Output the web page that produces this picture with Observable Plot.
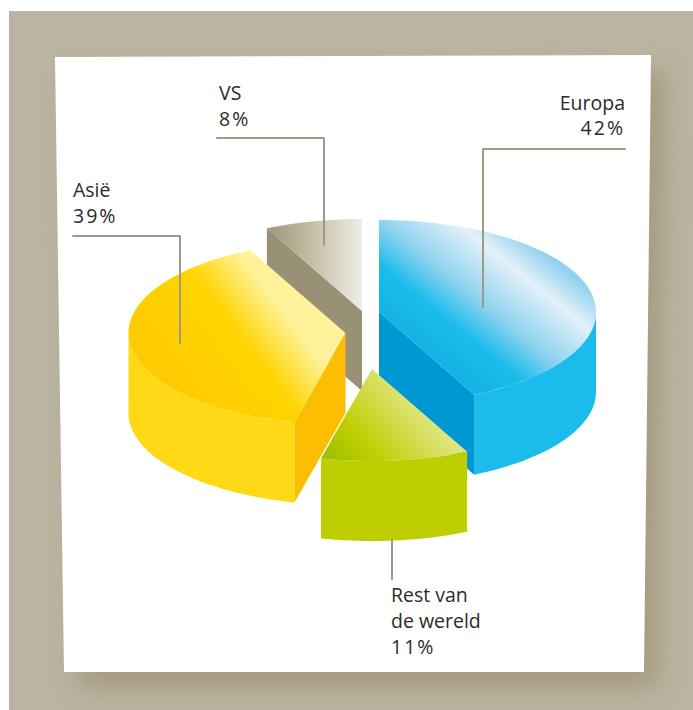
<!doctype html>
<html><head><meta charset="utf-8">
<script src="https://cdn.jsdelivr.net/npm/d3@7"></script>
<script src="https://cdn.jsdelivr.net/npm/@observablehq/plot@0.6"></script>
<style>html,body{margin:0;padding:0;background:#fff}svg{display:block}</style>
</head><body><div id="chart"></div>
<script>
// Data
const regions = ["Europa", "Rest van de wereld", "Asië", "VS"];
const shares = [42, 11, 39, 8];
const labelLines = [["Europa", "42%"], ["Rest van", "de wereld", "11%"], ["Asië", "39%"], ["VS", "8%"]];

// Layout (page pixels)
const W = 693, H = 710;
const centers = [[379, 312], [372, 369], [345.5, 333], [362, 311]];
const RX = 217, RY = 92, DEPTH = 80, ROTATION = 2.8;
const labelX = [625, 391, 73, 219], labelY = [110, 602, 197, 100], anchors = ["end", "start", "start", "start"];
const lineSteps = [25, 26, 26, 26];
const leaders = [
  [[625, 149], [483, 149], [483, 307]],
  [[392, 540], [392, 579]],
  [[73, 236], [180, 236], [180, 343]],
  [[217, 138], [324, 138], [324, 245]]
];
const backdrop = [[9, 11], [693, 11], [693, 710], [9, 710]];
const paper = [[55, 57], [651, 55], [644, 672], [64, 672]];
const backdropColor = "#bbb4a0", shadowColor = "#a59b82", leaderColor = "#a19a82", textColor = "#2b2a2d";

// Slice angles follow the shares; the pie is cut at 12 o'clock
let cum = 0;
const spans = shares.map((s, i) => {
  const a = i === 0 ? 0 : cum * 3.6 + ROTATION;
  cum += s;
  const b = i === shares.length - 1 ? 360 : cum * 3.6 + ROTATION;
  return [a, b];
});
const rim = (c, deg, dy = 0) => {
  const t = deg * Math.PI / 180;
  return [c[0] + RX * Math.sin(t), c[1] - RY * Math.cos(t) + dy];
};
const arc = (c, a, b, dy = 0) => {
  const n = Math.max(2, Math.ceil(Math.abs(b - a) / 2));
  return d3.range(n + 1).map(k => rim(c, a + (b - a) * k / n, dy));
};
const topFace = i => [centers[i], ...arc(centers[i], spans[i][0], spans[i][1])];
const outerWall = (i, a, b) => [...arc(centers[i], a, b), ...arc(centers[i], b, a, DEPTH)];
const cutWall = (i, deg) => {
  const c = centers[i], p = rim(c, deg);
  return [c, p, [p[0], p[1] + DEPTH], [c[0], c[1] + DEPTH]];
};
const face = (pts, fill, extra = {}) => Plot.line(pts, {x: d => d[0], y: d => d[1], fill, stroke: "none", ...extra});

const gradient = (id, p0, p1, stops) => {
  const g = d3.create("svg:linearGradient").attr("id", id).attr("gradientUnits", "userSpaceOnUse")
    .attr("x1", p0[0]).attr("y1", p0[1]).attr("x2", p1[0]).attr("y2", p1[1]);
  stops.forEach(([o, c]) => g.append("stop").attr("offset", o).attr("stop-color", c));
  return g.node();
};
const defs = () => {
  const d = d3.create("svg:defs").node();
  d.append(
    gradient("gEuropa", [400, 350], [505, 220], [[0, "#12aee0"], [.32, "#1bbcec"], [.53, "#8fd3ef"], [.81, "#e3f1f9"], [1, "#8fd1ee"]]),
    gradient("gAsia", [129, 332], [238, 250], [[0, "#fecb00"], [.63, "#ffd400"], [1, "#fff29a"]]),
    gradient("gVS", [262, 222], [366, 222], [[0, "#9a9277"], [.42, "#c0b89f"], [1, "#f3f1ec"]]),
    gradient("gRest", [325, 462], [412, 385], [[0, "#98bf00"], [.35, "#bfce00"], [1, "#e3e88f"]])
  );
  return d;
};

const idx = {Europa: 0, Rest: 1, Asia: 2, VS: 3};
const textRows = labelLines.flatMap((lines, i) =>
  lines.map((t, k) => ({t, x: labelX[i], y: labelY[i] + k * lineSteps[i], anchor: anchors[i]})));

const chart = Plot.plot({
  width: W, height: H,
  marginTop: 0, marginRight: 0, marginBottom: 0, marginLeft: 0,
  style: {background: "#fff", overflow: "hidden"},
  x: {domain: [0, W], range: [-0.5, W - 0.5], axis: null},
  y: {domain: [0, H], range: [-0.5, H - 0.5], axis: null},
  marks: [
    defs,
    face(backdrop, backdropColor),
    face(paper.map(([x, y]) => [x + 14, y + 16]), shadowColor, {imageFilter: "blur(12px)"}),
    face([[9, 11], [693, 11], [693, -30], [9, -30]], "#fff"),
    face([[-5, -5], [9, -5], [9, 715], [-5, 715]], "#fff"),
    face(paper, "#fff"),
    // VS
    face(cutWall(idx.VS, spans[idx.VS][0]), "#999176"),
    face(topFace(idx.VS), "url(#gVS)"),
    // Asia
    face(outerWall(idx.Asia, spans[idx.Asia][0], 270), "#ffd916"),
    face(cutWall(idx.Asia, spans[idx.Asia][0]), "#fdbd00"),
    face(topFace(idx.Asia), "url(#gAsia)"),
    // Europa
    face(outerWall(idx.Europa, 90, spans[idx.Europa][1]), "#1bbcec"),
    face(cutWall(idx.Europa, spans[idx.Europa][1]), "#0098d2"),
    face(topFace(idx.Europa), "url(#gEuropa)"),
    // Rest van de wereld
    face(outerWall(idx.Rest, spans[idx.Rest][0], spans[idx.Rest][1]), "#bfce00"),
    face(topFace(idx.Rest), "url(#gRest)"),
    // leaders and labels
    ...leaders.map(l => Plot.line(l, {x: d => d[0], y: d => d[1], stroke: leaderColor, strokeWidth: 2, curve: "linear", strokeLinejoin: "miter"})),
    ...["start", "end"].map(a => Plot.text(textRows.filter(r => r.anchor === a), {
      x: "x", y: "y", text: "t", textAnchor: a, lineAnchor: "bottom",
      fill: textColor, fontSize: 19.5, fontFamily: "'Open Sans', sans-serif"
    }))
  ]
});
d3.select(chart).selectAll("text").filter(function () { return /%$/.test(this.textContent); })
  .attr("letter-spacing", "2");
document.getElementById("chart").append(chart);
</script></body></html>
